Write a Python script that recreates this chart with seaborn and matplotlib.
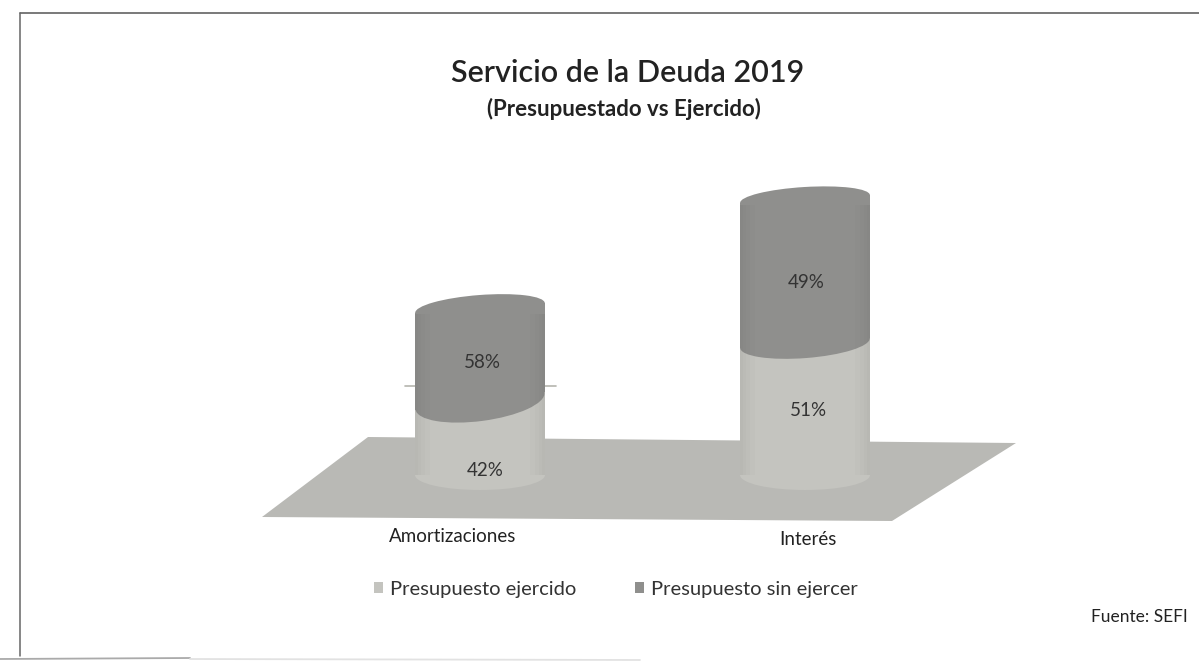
import math
import matplotlib
matplotlib.use("Agg")
import matplotlib.pyplot as plt
import matplotlib.transforms as mtrans
from matplotlib.patches import Ellipse, Polygon, Rectangle
import seaborn as sns

categorias = ["Amortizaciones", "Interés"]
ejercido = [26.8, 47.8]
sin_ejercer = [33.7, 52.2]
pct_ejercido = ["42%", "51%"]
pct_sin_ejercer = ["58%", "49%"]
total = [a + b for a, b in zip(ejercido, sin_ejercer)]

W, H = 1199, 662
CLARO = "#c4c4bf"
OSCURO = "#8f8f8d"
PISO = "#b9b9b5"
TEXTO = "#333333"

sns.set_theme(style="white")
plt.rcParams["font.family"] = ["Lato", "DejaVu Sans"]

fig = plt.figure(figsize=(W / 100, H / 100), dpi=100, facecolor="white")

# fondo en pixeles: marco, piso y textos sueltos
bg = fig.add_axes([0, 0, 1, 1])
bg.set_xlim(0, W)
bg.set_ylim(H, 0)
bg.axis("off")

bg.plot([20, 1199], [13, 13], color="#555555", lw=1.1)
bg.plot([20, 20], [13, 656], color="#666666", lw=1.1)
bg.plot([0, 190], [659, 658], color="#aaaaaa", lw=1.3)
bg.plot([190, 640], [659, 660], color="#e2e2e2", lw=1.3)
bg.add_patch(Polygon([(262, 517), (892, 521), (1016, 443), (368, 437)], color=PISO, lw=0))
bg.plot([405, 556], [386, 386], color="#b5b5ae", lw=1.2)

bg.text(628, 73, "Servicio de la Deuda 2019", ha="center", va="center",
        fontsize=22, fontweight="semibold", color="#222222")
bg.text(624, 109, "(Presupuestado vs Ejercido)", ha="center", va="center",
        fontsize=16, fontweight="bold", color="#222222")
bg.text(1188, 617, "Fuente: SEFI", ha="right", va="center", fontsize=12.5, color="#222222")

# ejes de los datos: la base queda en y=475 px y las categorias en x=480 y 805
base_px, techo_px = 475, 199
ax = fig.add_axes([0, 1 - base_px / H, 1, (base_px - techo_px) / H])
ax.patch.set_alpha(0)
sns.barplot(x=categorias, y=total, color=OSCURO, width=0.4, saturation=1, ax=ax,
            linewidth=0, label="Presupuesto sin ejercer")
sns.barplot(x=categorias, y=ejercido, color=CLARO, width=0.4, saturation=1, ax=ax,
            linewidth=0, label="Presupuesto ejercido")
ax.get_legend().remove()
ax.set_xlim(-480 / 325, (W - 480) / 325)
ax.set_ylim(0, 100)
ax.set_yticks([])
ax.set_xticks([0, 1])
ax.set_xticklabels(categorias, fontsize=13.5, color="#222222")
ax.tick_params(axis="x", length=0, pad=38)
etiquetas = ax.xaxis.get_majorticklabels()
etiquetas[0].set_transform(etiquetas[0].get_transform()
                           + mtrans.ScaledTranslation(-27 / 100, 0, fig.dpi_scale_trans))
etiquetas[1].set_transform(etiquetas[1].get_transform()
                           + mtrans.ScaledTranslation(3 / 100, -3 / 100, fig.dpi_scale_trans))
sns.despine(ax=ax, left=True, bottom=True)

# capa encima de las barras para tapas y rotulos
overlay = fig.add_axes([0, 0, 1, 1])
overlay.set_xlim(0, W)
overlay.set_ylim(H, 0)
overlay.axis("off")


def a_pixel(i, valor):
    return bg.transData.inverted().transform(ax.transData.transform((i, valor)))


def tapa(i, valor, alto, giro, arriba, abajo):
    # elipse inclinada con las esquinas que deja el giro
    cx, cy = a_pixel(i, valor)
    semi = 65
    dy = semi * math.tan(math.radians(giro))
    overlay.add_patch(Polygon([(cx, cy), (cx + semi, cy), (cx + semi, cy - dy)], color=abajo, lw=0))
    overlay.add_patch(Polygon([(cx, cy), (cx - semi, cy), (cx - semi, cy + dy)], color=arriba, lw=0))
    overlay.add_patch(Ellipse((cx, cy), 130, alto, angle=-giro, color=OSCURO, lw=0))


def sombra_lados(i):
    # oscurece un poco los costados del cilindro
    cx, base = a_pixel(i, 0)
    _, tope = a_pixel(i, total[i])
    for ancho in [3, 6, 10, 15]:
        for x0 in [cx - 65, cx + 65 - ancho]:
            overlay.add_patch(Rectangle((x0, tope + 6), ancho, base - tope - 6,
                                        color="#555555", alpha=0.025, lw=0))


giro_tapa = [4.4, 3.5]
giro_corte = [7.5, 4.4]
alto_tapa = [26, 24]
alto_corte = [40, 30]
for i in range(len(categorias)):
    cx, cy = a_pixel(i, 0)
    bg.add_patch(Ellipse((cx, cy), 130, 30, color=CLARO, lw=0))
    tapa(i, ejercido[i], alto_corte[i], giro_corte[i], OSCURO, CLARO)
    tapa(i, total[i], alto_tapa[i], giro_tapa[i], "white", OSCURO)
    sombra_lados(i)

posiciones = [(485, 471), (808, 410)]
posiciones_sup = [(482, 362), (806, 282)]
for i in range(len(categorias)):
    overlay.text(*posiciones[i], pct_ejercido[i], ha="center", va="center", fontsize=13.5, color=TEXTO)
    overlay.text(*posiciones_sup[i], pct_sin_ejercer[i], ha="center", va="center", fontsize=13.5, color=TEXTO)

handles, labels = ax.get_legend_handles_labels()
fig.legend(handles[::-1], labels[::-1], loc="center", bbox_to_anchor=(616 / W, 1 - 589 / H), ncol=2,
           frameon=False, fontsize=14.5, handlelength=0.45, handleheight=0.45,
           handletextpad=0.35, columnspacing=2.9, labelcolor="#333333")

fig.savefig("out.png", dpi=100)
